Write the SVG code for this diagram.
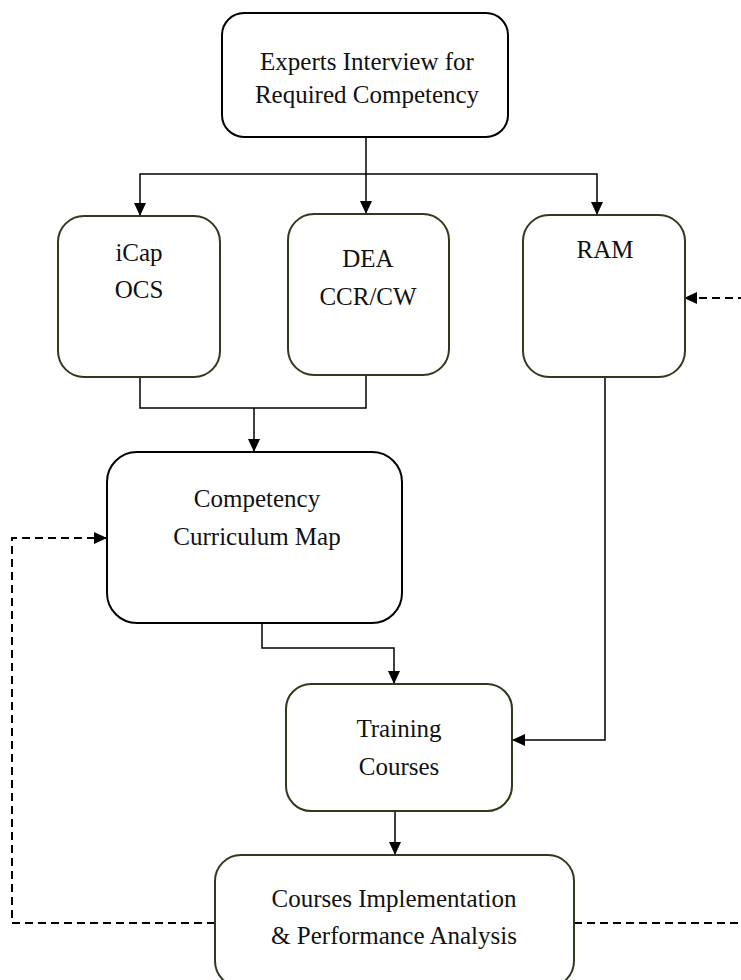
<svg xmlns="http://www.w3.org/2000/svg" width="741" height="980" viewBox="0 0 741 980">
<style>
.node{fill:#fff;stroke-width:2}
.g{stroke:#2d3b1c}
.k{stroke:#000}
text{font-family:"Liberation Serif","Times New Roman",serif;font-size:25px;fill:#111;text-anchor:middle}
.c{fill:none;stroke:#000;stroke-width:1.5}
.d{fill:none;stroke:#000;stroke-width:2;stroke-dasharray:8 5}
</style>
<defs>
<marker id="a" markerUnits="userSpaceOnUse" markerWidth="14" markerHeight="12" refX="13" refY="6" orient="auto">
<path d="M0,0 L13,6 L0,12 Z" fill="#000"/>
</marker>
</defs>
<rect width="741" height="980" fill="#fff"/>
<g id="connectors">
<path class="c" d="M366,137 V174"/>
<path class="c" d="M366,174 H140 V216" marker-end="url(#a)"/>
<path class="c" d="M366,174 V214" marker-end="url(#a)"/>
<path class="c" d="M366,174 H597 V215" marker-end="url(#a)"/>
<path class="c" d="M140,377 V408 H366 V375"/>
<path class="c" d="M254,408 V452" marker-end="url(#a)"/>
<path class="c" d="M262,623 V648 H394 V684" marker-end="url(#a)"/>
<path class="c" d="M605,377 V740 H512" marker-end="url(#a)"/>
<path class="c" d="M395,811 V855" marker-end="url(#a)"/>
<path class="d" d="M215,923 H12 V538 H107" marker-end="url(#a)"/>
<path class="d" d="M574,923 H770 V298 H684" marker-end="url(#a)"/>
</g>
<g id="n-experts">
<rect class="node k" x="222" y="13" width="286" height="124" rx="22"/>
<text x="367" y="70">Experts Interview for</text>
<text x="367" y="103">Required Competency</text>
</g>
<g id="n-icap">
<rect class="node g" x="58" y="216" width="162" height="161" rx="26"/>
<text x="139" y="261">iCap</text>
<text x="139" y="298">OCS</text>
</g>
<g id="n-dea">
<rect class="node g" x="288" y="214" width="161" height="161" rx="26"/>
<text x="368" y="267">DEA</text>
<text x="368" y="305">CCR/CW</text>
</g>
<g id="n-ram">
<rect class="node g" x="523" y="215" width="162" height="162" rx="26"/>
<text x="605" y="258">RAM</text>
</g>
<g id="n-ccm">
<rect class="node k" x="107" y="452" width="295" height="171" rx="30"/>
<text x="257" y="507">Competency</text>
<text x="257" y="545">Curriculum Map</text>
</g>
<g id="n-training">
<rect class="node g" x="286" y="684" width="226" height="127" rx="25"/>
<text x="399" y="737">Training</text>
<text x="399" y="775">Courses</text>
</g>
<g id="n-impl">
<rect class="node g" x="215" y="855" width="359" height="132" rx="26"/>
<text x="394" y="907">Courses Implementation</text>
<text x="394" y="944">&amp; Performance Analysis</text>
</g>
</svg>
